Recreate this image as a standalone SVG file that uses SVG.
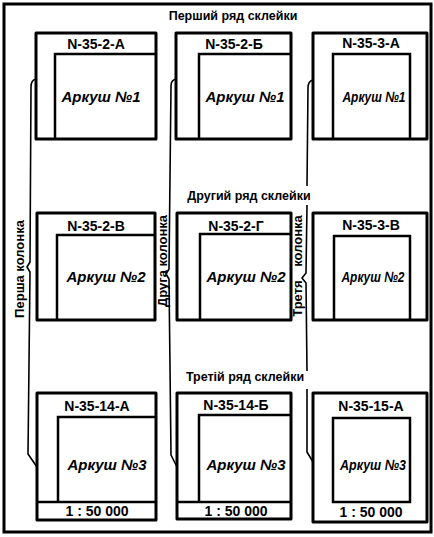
<svg xmlns="http://www.w3.org/2000/svg" width="434" height="537" viewBox="0 0 434 537">
<style>
.frame{fill:none;stroke:#000;stroke-width:3}
.box{fill:#fff;stroke:#000;stroke-width:3;stroke-linejoin:round}
.in{fill:none;stroke:#000;stroke-width:2.5}
.br{fill:none;stroke:#000;stroke-width:1.6;stroke-linejoin:round}
text{font-family:"Liberation Sans",Arial,sans-serif;font-weight:bold;fill:#000;text-anchor:middle}
.t{font-size:14px}
.a{font-size:15px;font-style:italic}
.s{font-size:14px}
.r{font-size:12.5px}
.c{font-size:13px}
</style>
<rect class="frame" x="4" y="4" width="427" height="528"/>
<g id="connectors">
<path class="br" d="M36,79 Q31,80 31,87 L30,262 L27,267 L30,272 L28,454 L37,467"/>
<path class="br" d="M176,79 Q171,80 171,86 L169,269 L166,274 L169,279 L171,455 L177,467"/>
<path class="br" d="M313,80 Q308,81 308,88 L307,186 M307,205 L306,273 L302,278 L306,283 L307,371 M307,389 L307,452 L313,462"/>
</g>
<g id="labels">
<text class="r" x="233" y="20">Перший ряд склейки</text>
<text class="r" x="249" y="200">Другий ряд склейки</text>
<text class="r" x="245" y="381">Третій ряд склейки</text>
<text class="c" transform="translate(24,269) rotate(-90)">Перша колонка</text>
<text class="c" transform="translate(167,261) rotate(-90)">Друга колонка</text>
<text class="c" transform="translate(302,266) rotate(-90)" word-spacing="10">Третя колонка</text>
</g>
<g id="sheet-N-35-2-A">
<rect class="box" x="36" y="33" width="120" height="106"/>
<path class="in" d="M55,139 V54 H156"/>
<text class="t" x="96" y="49">N-35-2-A</text>
<text class="a" x="101" y="102">Аркуш №1</text>
</g>
<g id="sheet-N-35-2-B">
<rect class="box" x="176" y="33" width="115" height="106"/>
<path class="in" d="M199,139 V54 H291"/>
<text class="t" x="234" y="49">N-35-2-Б</text>
<text class="a" x="245" y="102">Аркуш №1</text>
</g>
<g id="sheet-N-35-3-A">
<rect class="box" x="313" y="33" width="114" height="106"/>
<path class="in" d="M333,139 V54 H410 V139"/>
<text class="t" x="371" y="48">N-35-3-A</text>
<text class="a" x="374" y="102" textLength="63" lengthAdjust="spacingAndGlyphs">Аркуш №1</text>
</g>
<g id="sheet-N-35-2-V">
<rect class="box" x="37" y="213" width="118" height="107"/>
<path class="in" d="M57,320 V235 H155"/>
<text class="t" x="96" y="231">N-35-2-В</text>
<text class="a" x="106" y="282">Аркуш №2</text>
</g>
<g id="sheet-N-35-2-G">
<rect class="box" x="177" y="213" width="114" height="107"/>
<path class="in" d="M200,320 V234 H291"/>
<text class="t" x="236" y="231">N-35-2-Г</text>
<text class="a" x="246" y="282">Аркуш №2</text>
</g>
<g id="sheet-N-35-3-V">
<rect class="box" x="313" y="213" width="114" height="107"/>
<path class="in" d="M334,320 V236 H410 V320"/>
<text class="t" x="371" y="230">N-35-3-В</text>
<text class="a" x="373" y="282" textLength="63" lengthAdjust="spacingAndGlyphs">Аркуш №2</text>
</g>
<g id="sheet-N-35-14-A">
<rect class="box" x="37" y="393" width="119" height="127"/>
<path class="in" d="M58,502 V417 H156 M37,502 H156"/>
<text class="t" x="97" y="411">N-35-14-A</text>
<text class="a" x="107" y="470">Аркуш №3</text>
<text class="s" x="97" y="516">1 : 50 000</text>
</g>
<g id="sheet-N-35-14-B">
<rect class="box" x="177" y="393" width="114" height="126"/>
<path class="in" d="M199,502 V415 H291 M177,502 H291"/>
<text class="t" x="236" y="410">N-35-14-Б</text>
<text class="a" x="246" y="470">Аркуш №3</text>
<text class="s" x="236" y="516">1 : 50 000</text>
</g>
<g id="sheet-N-35-15-A">
<rect class="box" x="313" y="393" width="114" height="129"/>
<rect class="in" x="333" y="418" width="77" height="84"/>
<text class="t" x="371" y="411">N-35-15-A</text>
<text class="a" x="373" y="470" textLength="66" lengthAdjust="spacingAndGlyphs">Аркуш №3</text>
<text class="s" x="371" y="517">1 : 50 000</text>
</g>
</svg>
